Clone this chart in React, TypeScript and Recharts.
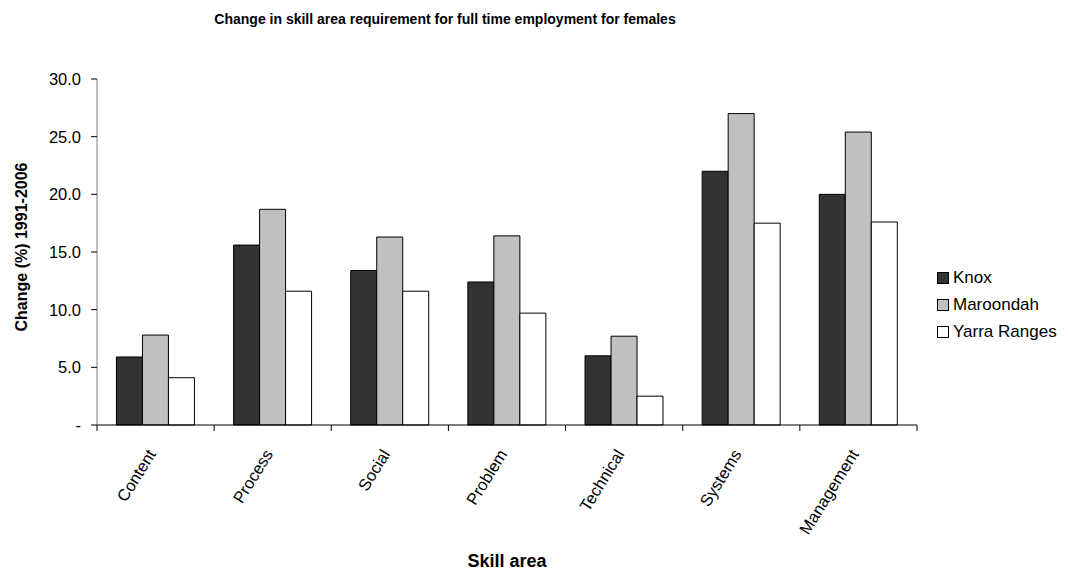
import React from "react";
import { BarChart, Bar, XAxis, YAxis } from "recharts";

const skillAreas = [
  "Content",
  "Process",
  "Social",
  "Problem",
  "Technical",
  "Systems",
  "Management",
];
const knox = [5.9, 15.6, 13.4, 12.4, 6.0, 22.0, 20.0];
const maroondah = [7.8, 18.7, 16.3, 16.4, 7.7, 27.0, 25.4];
const yarraRanges = [4.1, 11.6, 11.6, 9.7, 2.5, 17.5, 17.6];
const yTicks = [0, 5, 10, 15, 20, 25, 30];

const series = [
  { key: "knox", name: "Knox", fill: "#333333" },
  { key: "maroondah", name: "Maroondah", fill: "#C0C0C0" },
  { key: "yarra", name: "Yarra Ranges", fill: "#FFFFFF" },
];

const data = skillAreas.map((area, i) => ({
  area,
  knox: knox[i],
  maroondah: maroondah[i],
  yarra: yarraRanges[i],
}));

const FONT = '"Liberation Sans", Arial, sans-serif';

// Excel-style category axis: tick marks sit between the categories
const CategoryTick = (props: any) => {
  const { x, y, payload, index, visibleTicksCount } = props;
  const half = payload && payload.offset ? payload.offset : 820 / 7 / 2;
  const last = index === (visibleTicksCount || skillAreas.length) - 1;
  return (
    <g>
      <line x1={x - half} x2={x - half} y1={y} y2={y + 6} stroke="#000" />
      {last && (
        <line x1={x + half} x2={x + half} y1={y} y2={y + 6} stroke="#000" />
      )}
      <g transform={`translate(${x - 4},${y + 26}) rotate(-58)`}>
        <text
          x={0}
          y={0}
          dy="0.35em"
          textAnchor="end"
          fontSize={16.5}
          fontFamily={FONT}
          fill="#000"
        >
          {payload.value}
        </text>
      </g>
    </g>
  );
};

// legend sits outside the svg so it doesn't eat into the plot area
const LegendBox = () => (
  <div
    style={{
      position: "absolute",
      left: 937,
      top: 264,
      fontFamily: FONT,
      fontSize: 17,
      color: "#000",
    }}
  >
    {series.map((s) => (
      <div
        key={s.key}
        style={{ display: "flex", alignItems: "center", height: 27 }}
      >
        <span
          style={{
            display: "inline-block",
            width: 10,
            height: 10,
            background: s.fill,
            border: "1px solid #000",
            marginRight: 4,
          }}
        />
        <span>{s.name}</span>
      </div>
    ))}
  </div>
);

export default function App() {
  return (
    <div
      style={{
        position: "absolute",
        left: 0,
        top: 0,
        width: 1068,
        height: 571,
        background: "#fff",
      }}
    >
      <div
        style={{
          position: "absolute",
          left: 0,
          width: 890,
          top: 11,
          textAlign: "center",
          fontFamily: FONT,
          fontWeight: "bold",
          fontSize: 14,
          color: "#000",
        }}
      >
        Change in skill area requirement for full time employment for females
      </div>
      <BarChart
        width={1068}
        height={571}
        data={data}
        margin={{ top: 79, right: 151, bottom: 0, left: 0 }}
        barCategoryGap="16.6%"
        barGap={0}
      >
        <XAxis
          dataKey="area"
          height={146}
          axisLine={{ stroke: "#000" }}
          tickLine={false}
          tickSize={0}
          tickMargin={0}
          interval={0}
          tick={<CategoryTick />}
          label={({ viewBox }: any) => (
            <text
              x={viewBox.x + viewBox.width / 2}
              y={viewBox.y + 142}
              textAnchor="middle"
              fontFamily={FONT}
              fontWeight="bold"
              fontSize={18}
              fill="#000"
            >
              Skill area
            </text>
          )}
        />
        <YAxis
          width={97}
          domain={[0, 30]}
          ticks={yTicks}
          interval={0}
          axisLine={{ stroke: "#808080" }}
          tickLine={{ stroke: "#000" }}
          tickSize={6}
          tickMargin={10}
          tick={{ fontSize: 16.5, fontFamily: FONT, fill: "#000" }}
          tickFormatter={(v: number) => (v === 0 ? "-" : v.toFixed(1))}
          label={({ viewBox }: any) => {
            const cx = 21;
            const cy = viewBox.y + viewBox.height / 2 - 5;
            return (
              <text
                x={cx}
                y={cy}
                transform={`rotate(-90, ${cx}, ${cy})`}
                textAnchor="middle"
                dominantBaseline="central"
                fontFamily={FONT}
                fontWeight="bold"
                fontSize={16}
                fill="#000"
              >
                Change (%) 1991-2006
              </text>
            );
          }}
        />
        {series.map((s) => (
          <Bar
            key={s.key}
            dataKey={s.key}
            name={s.name}
            fill={s.fill}
            stroke="#000"
            strokeWidth={1}
            isAnimationActive={false}
          />
        ))}
      </BarChart>
      <LegendBox />
    </div>
  );
}
